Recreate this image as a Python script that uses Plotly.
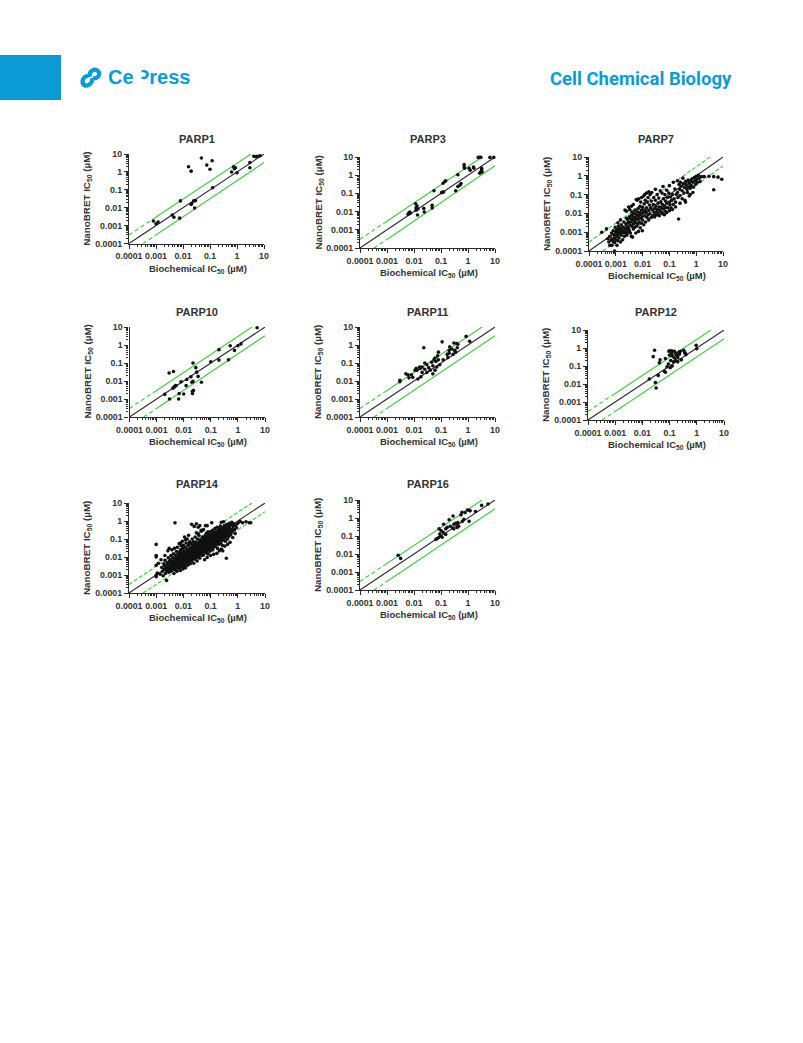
import plotly.graph_objects as go

W, H = 803, 1043

PANEL_NAMES = ["PARP1", "PARP3", "PARP7", "PARP10", "PARP11", "PARP12", "PARP14", "PARP16"]
TICK_VALUES = [0.0001, 0.001, 0.01, 0.1, 1, 10]
TICK_LABELS = ["0.0001", "0.001", "0.01", "0.1", "1", "10"]
MINOR_TICKS = [m * d for d in [0.0001, 0.001, 0.01, 0.1, 1] for m in [2, 3, 4, 5, 6, 7, 8, 9]]

IDENTITY_X = [0.0001, 10]
IDENTITY_Y = [0.0001, 10]
UPPER_X = [0.0001, 0.0008, 3.33]
UPPER_Y = [0.0003, 0.0024, 10]
LOWER_X = [0.00033, 0.0012, 10]
LOWER_Y = [0.0001, 0.00036, 3.3]

PARP1 = [(.0008,.0018),(.001,.00126),(.0012,.0016),(.004,.0039),(.0046,.0029),(.0075,.0026),(.008,.024),
(.016,1.95),(.02,1.1),(.048,6),(.076,2.4),(.1,1.4),(.12,4.2),(.02,.015),(.021,.017),(.025,.024),(.029,.025),
(.027,.0095),(.125,.13),(.63,.98),(.75,1.9),(.8,1.5),(.88,1.7),(1.0,.9),(3,3.3),(3,1.7),(4.2,7.5),(5,7),(5.7,7.5),(7.2,8)]

PARP3 = [(.006,.0072),(.0065,.0085),(.007,.0095),(.0072,.008),(.0115,.027),(.012,.016),(.012,.012),(.013,.02),
(.014,.014),(.0135,.0065),(.023,.015),(.024,.0095),(.047,.022),(.047,.016),(.055,.14),(.105,.11),(.115,.115),
(.125,.12),(.12,.36),(.14,.45),(.15,.5),(.35,.14),(.42,1.05),(.42,.24),(.5,.28),(.55,.35),(.72,3.8),(.72,2.8),
(.75,2.4),(1.1,2.4),(1.2,1.9),(1.6,2.8),(1.65,2.4),(2.4,9.5),(2.7,9.5),(3,9.5),(2.7,1.3),(3,1.5),(3.2,2.4),
(3.2,1.9),(3.3,1.5),(6.5,9.5),(9,9.5)]

PARP7 = [(.0003,.001),(.00045,.0015),(.0005,.00045),(.00055,.0003),(.0006,.0002),(.0006,.0006),(.00065,.00038),
(.0007,.0009),(.00072,.0002),(.00075,.00045),(.0008,.0012),(.0008,.00032),(.00085,.0007),(.0009,.0001),
(.0009,.00028),(.00092,.0005),(.00095,.0018),(.001,.0011),(.001,.0004),(.00105,.00075),(.0011,.0002),
(.0011,.0014),(.00115,.0006),(.0012,.0009),(.0012,.00035),(.00125,.0021),(.0013,.0012),(.0013,.0005),
(.0014,.0008),(.0014,.0016),(.0015,.001),(.0015,.0003),(.0016,.0025),(.0016,.0007),(.0017,.0013),(.0018,.0004),
(.0018,.0019),(.0019,.00095),(.002,.0035),(.002,.0011),(.0021,.0006),(.0022,.0016),(.0022,.015),(.0023,.0009),
(.0024,.0028),(.0025,.0013),(.0025,.013),(.0026,.0007),(.0027,.002),(.0028,.0045),(.0028,.001),(.003,.0033),
(.003,.0016),(.0032,.0065),(.0032,.0012),(.0033,.016),(.0034,.0024),(.0035,.0009),(.0036,.0052),(.0037,.0035),
(.0038,.0006),(.0039,.008),(.004,.0021),(.004,.012),(.0042,.00055),(.0043,.0045),(.0045,.0015),(.0045,.0065),
(.0046,.0028),(.0048,.01),(.005,.0042),(.005,.0018),(.0052,.015),(.0054,.006),(.0055,.0032),(.0056,.0009),
(.0058,.055),(.006,.0085),(.006,.0021),(.0062,.012),(.0063,.05),(.0065,.0048),(.0067,.0028),(.0068,.018),
(.007,.0075),(.007,.0011),(.0072,.06),(.0075,.0035),(.0077,.011),(.008,.0055),(.008,.024),(.0082,.0017),
(.0085,.04),(.0087,.009),(.009,.003),(.009,.015),(.0092,.07),(.0095,.0065),(.0098,.0012),(.01,.021),
(.01,.0044),(.0105,.011),(.011,.085),(.011,.0025),(.0115,.032),(.012,.0075),(.012,.015),(.0125,.05),
(.013,.0035),(.0135,.011),(.014,.12),(.014,.02),(.0145,.006),(.015,.04),(.016,.0085),(.016,.07),(.017,.014),
(.017,.0045),(.018,.028),(.019,.1),(.019,.0095),(.02,.02),(.021,.006),(.021,.045),(.022,.13),(.023,.015),
(.024,.0075),(.025,.03),(.026,.07),(.027,.011),(.028,.018),(.03,.008),(.03,.05),(.032,.024),(.033,.012),
(.035,.1),(.036,.016),(.038,.035),(.04,.0095),(.04,.065),(.042,.022),(.045,.014),(.046,.16),(.048,.04),
(.05,.02),(.052,.011),(.053,.12),(.055,.03),(.058,.27),(.06,.017),(.06,.06),(.065,.025),(.068,.1),(.07,.013),
(.072,.045),(.075,.02),(.08,.17),(.08,.035),(.085,.07),(.09,.02),(.095,.12),(.1,.04),(.105,.03),(.11,.075),
(.115,.02),(.12,.05),(.13,.1),(.14,.03),(.15,.06),(.16,.2),(.17,.04),(.18,.1),(.2,.13),(.21,.07),(.22,.005),
(.23,.34),(.24,.19),(.25,.09),(.26,.45),(.28,.28),(.3,.16),(.32,.75),(.33,.38),(.35,.12),(.37,.24),(.38,.05),
(.4,.5),(.42,.33),(.45,.19),(.47,.13),(.5,.27),(.5,.6),(.55,.4),(.6,.22),(.62,.55),(.65,.3),(.7,.7),(.75,.45),
(.8,.25),(.85,.8),(.9,.55),(.95,.35),(1,.95),(1.05,.65),(1.1,.45),(1.2,1.05),(1.3,.75),(1.4,.5),(1.6,.9),
(2,.9),(3,.95),(4.5,.9),(4.5,.18),(6.5,.85),(9,.65),
(.028,.0065),(.035,.0085),(.042,.0075),(.055,.0095),(.065,.0085),(.08,.011),(.1,.014),(.13,.016),(.17,.022),
(.25,.035),(.3,.06),(.4,.04),(.6,.1),(.75,.13),(.55,.085),(.0025,.0055),(.0015,.0045),(.0012,.0032),(.0038,.024),
(.0045,.03),(.003,.022),(.012,.1),(.017,.14),(.03,.19),(.1,.3),(.14,.45),(.2,.55)]

PARP10 = [(.0029,.028),(.0042,.034),(.002,.0018),(.003,.001),(.004,.004),(.0045,.0047),(.005,.0055),(.0052,.0055),
(.0065,.001),(.0068,.002),(.008,.009),(.01,.0019),(.0123,.0055),(.013,.012),(.0185,.017),(.02,.0085),(.022,.0095),
(.021,.002),(.021,.0027),(.023,.003),(.022,.1),(.028,.055),(.03,.031),(.034,.018),(.045,.0085),(.1,.117),(.2,.55),
(.2,.145),(.45,.15),(.52,.9),(.75,.5),(1.0,.9),(1.3,1.15),(5.1,9)]

PARP11 = [(.003,.009),(.003,.011),(.005,.025),(.006,.022),(.0065,.015),(.008,.022),(.009,.016),(.011,.04),(.012,.05),
(.013,.04),(.014,.013),(.016,.06),(.017,.05),(.018,.017),(.02,.06),(.02,.03),(.023,.7),(.025,.1),(.025,.045),(.03,.08),
(.03,.03),(.035,.055),(.04,.04),(.045,.11),(.05,.07),(.05,.025),(.055,.15),(.06,.04),(.06,.19),(.065,.12),(.07,.06),
(.075,.25),(.08,.4),(.08,.15),(.09,.08),(.11,1.5),(.12,.15),(.17,.3),(.18,.2),(.2,.5),(.2,.35),(.21,.8),(.25,.6),
(.28,.3),(.3,1.3),(.32,.5),(.35,.4),(.38,1.2),(.4,.7),(.42,1.1),(.85,3),(1.15,1.6)]

PARP12 = [(.018,.019),(.025,.33),(.028,.75),(.03,.012),(.032,.006),(.038,.03),(.042,.15),(.045,.22),(.065,.05),(.07,.26),
(.07,.045),(.08,.09),(.09,.13),(.095,.65),(.1,.7),(.1,.4),(.105,.08),(.11,.2),(.12,.5),(.12,.7),(.125,.1),(.13,.35),
(.14,.17),(.15,.65),(.15,.28),(.17,.5),(.17,.2),(.18,.4),(.2,.3),(.2,.17),(.22,.6),(.23,.45),(.25,.65),(.27,.22),
(.33,.75),(.36,.55),(.38,.5),(.4,.42),(.95,1.4),(1,.9)]

PARP14 = [(.001,.05),(.001,.012),(.001,.01),(.001,.0035),(.001,.001),(.001,.0008),(.0011,.0013),(.0012,.0045),
(.0014,.0011),(.0015,.007),(.0016,.0026),(.0017,.0016),(.0018,.0009),(.0019,.0042),(.002,.0033),(.002,.0021),
(.0021,.012),(.0021,.0065),(.0022,.0012),(.0023,.0027),(.0024,.0017),(.0024,.0005),(.0025,.0048),(.0026,.0036),
(.0027,.022),(.0027,.0023),(.0028,.009),(.0029,.0014),(.003,.03),(.003,.0055),(.003,.0032),(.0031,.0019),(.0032,.0026),
(.0033,.007),(.0034,.0042),(.0035,.012),(.0035,.0016),(.0036,.0022),(.0037,.0034),(.0038,.025),(.0038,.0058),
(.0039,.0028),(.004,.0046),(.004,.0019),(.0041,.009),(.0042,.0036),(.0043,.015),(.0044,.0025),(.0045,.0065),
(.0045,.0012),(.0046,.0044),(.0047,.03),(.0048,.0032),(.0049,.79),(.005,.0085),(.005,.0055),(.005,.002),(.0052,.012),
(.0053,.0038),(.0054,.0027),(.0055,.0075),(.0056,.02),(.0057,.0048),(.0058,.0016),(.006,.01),(.006,.0034),(.006,.035),
(.0062,.0062),(.0064,.0042),(.0065,.014),(.0066,.0024),(.0068,.0085),(.007,.055),(.007,.0052),(.007,.018),(.0072,.0035),
(.0074,.011),(.0075,.0068),(.0077,.0018),(.0078,.025),(.008,.0045),(.008,.014),(.008,.0085),(.0082,.042),(.0084,.0028),
(.0085,.0065),(.0087,.018),(.009,.011),(.009,.0052),(.009,.0035),(.0092,.075),(.0094,.03),(.0095,.0085),(.0097,.0022),
(.01,.014),(.01,.0065),(.01,.045),(.0102,.0042),(.0105,.022),(.011,.0095),(.011,.0032),(.011,.13),(.0112,.0155),
(.0115,.0058),(.0118,.035),(.012,.011),(.012,.0075),(.012,.0025),(.0125,.06),(.0128,.018),(.013,.0045),(.013,.0095),
(.0133,.028),(.0135,.013),(.0138,.1),(.014,.0065),(.014,.021),(.0145,.0035),(.0148,.011),(.015,.045),(.015,.016),
(.015,.0085),(.0155,.16),(.016,.025),(.016,.0055),(.0165,.012),(.017,.07),(.017,.019),(.017,.0075),(.0175,.033),
(.018,.014),(.018,.0042),(.0185,.0095),(.019,.055),(.019,.022),(.0195,.012),(.02,.65),(.02,.032),(.02,.0165),
(.02,.006),(.021,.1),(.021,.025),(.0215,.0115),(.022,.042),(.022,.0185),(.022,.008),(.023,.07),(.023,.028),
(.0235,.014),(.024,.0045),(.024,.021),(.025,.5),(.025,.05),(.025,.033),(.025,.0105),(.026,.016),(.026,.0075),
(.027,.13),(.027,.042),(.027,.024),(.028,.019),(.028,.012),(.029,.065),(.029,.03),(.03,.7),(.03,.22),(.03,.05),
(.03,.022),(.03,.009),(.032,.036),(.032,.016),(.032,.006),(.033,.1),(.034,.028),(.034,.013),(.035,.45),(.035,.055),
(.035,.02),(.036,.04),(.036,.011),(.037,.16),(.038,.07),(.038,.03),(.039,.017),(.04,.55),(.04,.05),(.04,.024),
(.04,.0085),(.042,.038),(.042,.014),(.043,.09),(.044,.03),(.045,.065),(.045,.02),(.046,.27),(.047,.045),(.048,.012),
(.05,.13),(.05,.055),(.05,.03),(.05,.018),(.052,.08),(.052,.04),(.054,.024),(.055,.33),(.055,.1),(.055,.013),
(.057,.05),(.058,.034),(.06,.065),(.06,.02),(.062,.15),(.063,.042),(.065,.55),(.065,.085),(.065,.028),(.067,.055),
(.068,.017),(.07,.21),(.07,.11),(.07,.036),(.072,.07),(.074,.024),(.075,.55),(.075,.05),(.077,.14),(.078,.03),
(.08,.09),(.08,.04),(.08,.015),(.083,.18),(.085,.065),(.085,.05),(.087,.026),(.09,.12),(.09,.034),(.092,.08),
(.095,.055),(.095,.021),(.1,.25),(.1,.15),(.1,.07),(.1,.042),(.105,.1),(.105,.03),(.11,.8),(.11,.19),(.11,.06),
(.115,.13),(.115,.045),(.12,.3),(.12,.085),(.12,.025),(.125,.16),(.125,.06),(.13,.11),(.13,.035),(.135,.22),
(.135,.075),(.14,.14),(.14,.05),(.145,.38),(.15,.1),(.15,.19),(.15,.04),(.155,.065),(.16,.26),(.16,.13),
(.165,.085),(.17,.17),(.17,.055),(.175,.45),(.18,.22),(.18,.11),(.18,.03),(.19,.3),(.19,.07),(.2,.15),(.2,.095),
(.2,.05),(.21,.37),(.21,.2),(.22,.12),(.22,.08),(.23,.52),(.23,.26),(.24,.16),(.24,.06),(.25,.85),(.25,.33),
(.25,.1),(.26,.21),(.27,.14),(.27,.045),(.28,.42),(.28,.085),(.3,.27),(.3,.17),(.3,.9),(.32,.11),(.32,.55),
(.33,.35),(.34,.2),(.35,.075),(.36,.14),(.37,.45),(.38,.27),(.38,.0085),(.4,.17),(.4,.65),(.42,.35),(.42,.1),
(.45,.55),(.45,.22),(.47,.14),(.5,.75),(.5,.4),(.5,.28),(.52,.065),(.55,.18),(.55,.6),(.6,.35),(.6,.85),(.62,.25),
(.65,.12),(.68,.5),(.7,.7),(.75,.33),(.8,.2),(.85,.6),(.9,.42),(1,.75),(1.2,.95),(1.5,.8),(2,.9),(2.6,.8),(3,.8),
(.06,.007),(.075,.0095),(.1,.012),(.13,.014),(.17,.016),(.21,.022),(.25,.028),(.33,.04),(.28,.022),(.42,.05),
(.035,.2),(.045,.3),(.06,.12),(.08,.25),(.012,.09),(.008,.06),(.016,.055)]

PARP16 = [(.0026,.0085),(.0032,.0057),(.065,.065),(.07,.07),(.08,.08),(.085,.25),(.09,.13),(.095,.1),(.1,.2),(.11,.085),
(.12,.16),(.125,.45),(.15,.25),(.15,.12),(.17,.3),(.2,.8),(.22,.35),(.27,.28),(.28,1.3),(.3,.45),(.3,.25),(.35,.5),
(.4,.3),(.42,.55),(.45,.35),(.55,1.5),(.6,2.1),(.62,.65),(.7,.85),(.78,2),(.95,2.8),(1.1,.65),(1.1,2.7),(1.2,2.5),
(1.9,2.3),(3.2,5),(5.5,6)]

PANEL_POINTS = [PARP1, PARP3, PARP7, PARP10, PARP11, PARP12, PARP14, PARP16]

# left, right, top, bottom of each plot area, title centre y (pixels)
BOXES = [(129, 264, 154, 243.5, 139), (360, 495, 157, 248, 139), (589, 723, 157, 251, 139),
         (129.5, 265, 327, 417, 312), (360, 495, 327, 417, 312), (588, 724, 330, 420, 312),
         (129, 265, 503, 593, 484), (360, 495, 500, 590, 484)]
DASHED_THROUGHOUT = {"PARP7", "PARP14"}

BLACK = "#2b2b2b"
GREEN = "#45cc45"
TEXT = "#333333"
BLUE = "#0a9bd6"
FONT = "Liberation Sans"


def px(x):
    return x / W


def py(y):
    return 1 - y / H


fig = go.Figure()
annotations = []


def label(x, y, text, size, color=TEXT, angle=0, xanchor="center", yanchor="middle", family=FONT):
    annotations.append(dict(xref="paper", yref="paper", x=px(x), y=py(y), text=f"<b>{text}</b>",
                            showarrow=False, textangle=angle, xanchor=xanchor, yanchor=yanchor,
                            font=dict(family=family, size=size, color=color)))


layout_axes = {}
for i, (name, pts, box) in enumerate(zip(PANEL_NAMES, PANEL_POINTS, BOXES), start=1):
    left, right, top, bottom, title_y = box
    xa, ya = f"x{i}", f"y{i}"
    common = dict(type="log", range=[-4, 1], automargin=False, showgrid=False, zeroline=False, showline=True,
                  linecolor=BLACK, linewidth=1.2, ticks="outside", ticklen=4, tickwidth=1.2, tickcolor=BLACK,
                  tickmode="array", tickvals=TICK_VALUES, ticktext=[f"<b>{t}</b>" for t in TICK_LABELS],
                  tickfont=dict(family=FONT, size=8.8, color=TEXT),
                  minor=dict(ticks="outside", ticklen=2, tickwidth=0.7, tickcolor=BLACK, tickmode="array",
                             tickvals=MINOR_TICKS, showgrid=False))
    layout_axes[f"xaxis{i}"] = dict(common, domain=[px(left), px(right)], anchor=ya, tickangle=0)
    layout_axes[f"yaxis{i}"] = dict(common, domain=[py(bottom), py(top)], anchor=xa)

    fig.add_trace(go.Scatter(x=IDENTITY_X, y=IDENTITY_Y, xaxis=xa, yaxis=ya, mode="lines", cliponaxis=False,
                             line=dict(color=BLACK, width=1.1), showlegend=False))
    for gx, gy in ((UPPER_X, UPPER_Y), (LOWER_X, LOWER_Y)):
        if name in DASHED_THROUGHOUT:
            fig.add_trace(go.Scatter(x=gx, y=gy, xaxis=xa, yaxis=ya, mode="lines", cliponaxis=False,
                                     line=dict(color=GREEN, width=1.2, dash="4px,2px"), showlegend=False))
        else:
            fig.add_trace(go.Scatter(x=gx[:2], y=gy[:2], xaxis=xa, yaxis=ya, mode="lines", cliponaxis=False,
                                     line=dict(color=GREEN, width=1.2, dash="4px,3px"), showlegend=False))
            fig.add_trace(go.Scatter(x=gx[1:], y=gy[1:], xaxis=xa, yaxis=ya, mode="lines", cliponaxis=False,
                                     line=dict(color=GREEN, width=1.2), showlegend=False))
    fig.add_trace(go.Scatter(x=[p[0] for p in pts], y=[p[1] for p in pts], xaxis=xa, yaxis=ya, mode="markers",
                             cliponaxis=False, marker=dict(color="#111111", size=3.6, line=dict(width=0)),
                             showlegend=False))

    label((left + right) / 2, title_y, name, 11)
    label((left + right) / 2 + 1, bottom + 25, "Biochemical IC<sub>50</sub> (µM)", 9.5)
    label(left - 42, (top + bottom) / 2, "NanoBRET IC<sub>50</sub> (µM)", 9.8, angle=-90)

# Header
label(106, 90, "Ce", 20, color=BLUE, xanchor="left", yanchor="bottom")
label(134, 90, "Press", 20, color=BLUE, xanchor="left", yanchor="bottom")
annotations.append(dict(xref="paper", yref="paper", x=px(133), y=py(67), xanchor="left", yanchor="top", showarrow=False,
                        text=" ", width=7, height=24, bgcolor="white", borderpad=0))
annotations.append(dict(xref="paper", yref="paper", x=px(133), y=py(79), xanchor="left", yanchor="top", showarrow=False,
                        text=" ", width=13, height=12, bgcolor="white", borderpad=0))
label(734, 92, "Cell Chemical Biology", 18.5, color=BLUE, xanchor="right", yanchor="bottom", family="Roboto")

shapes = [
    dict(type="rect", xref="paper", yref="paper", x0=0, x1=px(61), y0=py(100), y1=py(55),
         fillcolor=BLUE, line=dict(width=0)),
    dict(type="path", xref="paper", yref="paper",
         path=f"M {px(90)},{py(77)} C {px(88)},{py(71)} {px(95)},{py(68)} {px(98)},{py(71)} "
              f"C {px(101)},{py(74)} {px(98)},{py(79)} {px(93)},{py(78)}",
         line=dict(color=BLUE, width=4.2)),
    dict(type="path", xref="paper", yref="paper",
         path=f"M {px(92)},{py(78)} C {px(93)},{py(83)} {px(88)},{py(87)} {px(84)},{py(85)} "
              f"C {px(81)},{py(82)} {px(83)},{py(76)} {px(88)},{py(76)}",
         line=dict(color=BLUE, width=4.2)),
]

fig.update_layout(width=W, height=H, margin=dict(l=0, r=0, t=0, b=0, pad=0), paper_bgcolor="white",
                  plot_bgcolor="white", showlegend=False, annotations=annotations, shapes=shapes, **layout_axes)

fig.write_html("out.html", config={"displayModeBar": False},
               post_script="document.body.style.margin='0';document.documentElement.style.overflow='hidden';")
